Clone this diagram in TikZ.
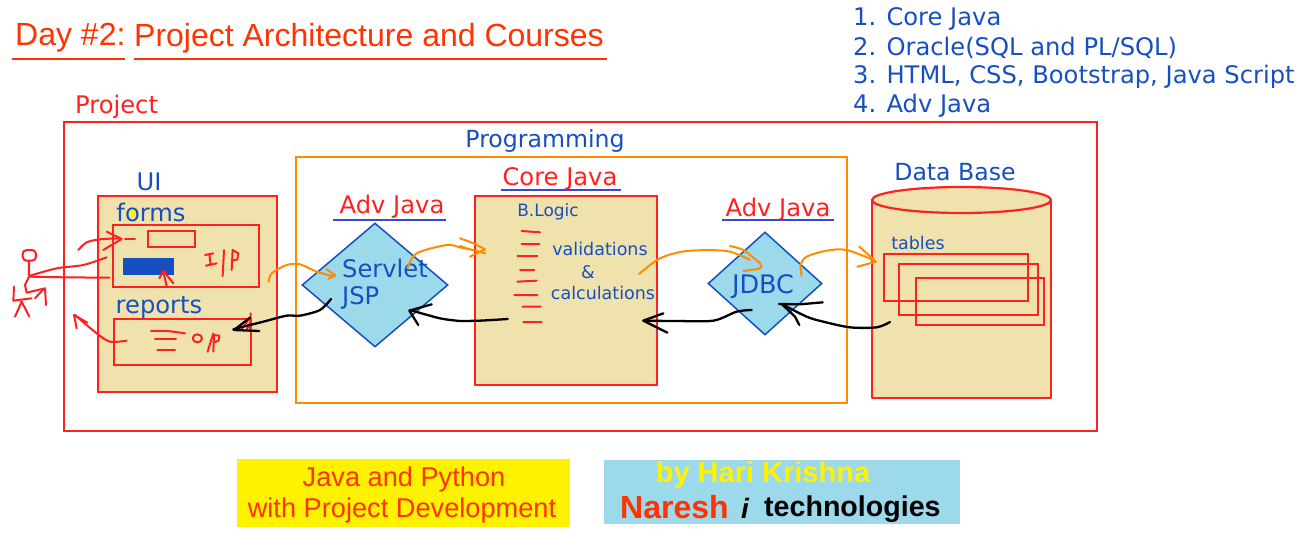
\documentclass[tikz,border=0pt]{standalone}
\usepackage{fontspec}
\setmainfont{DejaVu Sans}
\newfontfamily\arialf{Liberation Sans}
\usetikzlibrary{shapes.geometric}
\definecolor{rd}{HTML}{FF2020}
\definecolor{tit}{HTML}{FF3300}
\definecolor{blu}{HTML}{1650C0}
\definecolor{tan}{HTML}{EFE2AD}
\definecolor{sky}{HTML}{9BD9EB}
\definecolor{org}{HTML}{FF8C00}
\definecolor{ul}{HTML}{3F48CC}
\tikzset{
 px/.style={x=1pt,y=-1pt},
 boxr/.style={draw=rd,line width=2.2pt,anchor=north west,inner sep=0pt,outer sep=0pt},
 tanbox/.style={boxr,fill=tan},
 dia/.style={diamond,draw=blu,fill=sky,line width=1.5pt,inner sep=0pt,aspect=1.15},
 lab/.style={text=blu,inner sep=0pt,yshift=-2pt,font=\fontsize{24.2}{24}\selectfont},
 labm/.style={text=blu,inner sep=0pt,yshift=-2pt,font=\fontsize{23.6}{24}\selectfont},
 labr/.style={text=rd,inner sep=0pt,yshift=-2pt,font=\fontsize{24.2}{24}\selectfont},
 sml/.style={text=blu,inner sep=0pt,yshift=-1pt,font=\fontsize{17.5}{18}\selectfont},
 ar/.style={text=tit,inner sep=0pt,yshift=-2pt,font=\arialf\fontsize{32}{32}\selectfont},
 ulin/.style={draw=ul,line width=2.6pt},
 tul/.style={draw=tit,line width=2.4pt},
 rs/.style={draw=rd,line width=2pt,line cap=round,line join=round},
 os/.style={draw=org,line width=2pt,line cap=round,line join=round},
 ks/.style={draw=black,line width=2.3pt,line cap=round,line join=round},
 bt/.style={text=tit,inner sep=0pt,yshift=-2pt,font=\arialf\fontsize{27.2}{27}\selectfont},
 z1/.style={x=0.33333pt,y=-0.33333pt,shift={(0pt,-170pt)}},
 z2/.style={x=0.33333pt,y=-0.33333pt,shift={(460pt,-170pt)}},
 z3/.style={x=0.33333pt,y=-0.33333pt,shift={(700pt,-170pt)}},
}
\begin{document}
\begin{tikzpicture}[px]
\useasboundingbox (0,0) rectangle (1308,554);
\fill[white] (0,0) rectangle (1308,554);
% title
\node[ar,anchor=west] (day) at (15,36) {Day \#2:};
\node[ar,anchor=west] (ttl) at (134,36) {Project Architecture and Courses};
\draw[tul] (12,59) -- (125,59);
\draw[tul] (134,59) -- (607,59);
% list
\node[lab,anchor=west] (l1) at (853,17) {1. Core Java};
\node[lab,anchor=west] (l2) at (853,45.5) {2. Oracle(SQL and PL/SQL)};
\node[lab,anchor=west] (l3) at (853,75) {3. HTML, CSS, Bootstrap, Java Script};
\node[lab,anchor=west] (l4) at (853,104) {4. Adv Java};
% containers
\node[labr,anchor=west] (proj) at (75,105) {Project};
\node[boxr,minimum width=1033pt,minimum height=309pt] (pbox) at (64,122) {};
\node[labm] (prog) at (545,139) {Programming};
\node[boxr,draw=org,minimum width=551pt,minimum height=246pt] (pgbox) at (296,157) {};
% UI
\node[lab] (ui) at (149,180) {UI};
\node[tanbox,minimum width=179pt,minimum height=196pt] (uib) at (98,196) {};
\node[boxr,minimum width=146pt,minimum height=62pt] (fb) at (113,225) {};
\node[boxr,minimum width=47pt,minimum height=16pt] (inp) at (148,231) {};
\node[anchor=north west,fill=blu,minimum width=51pt,minimum height=17pt,inner sep=0pt] (btn) at (123,258) {};
\node[lab] (forms) at (151,210) {forms};
\fill[yellow] (132.3,213.3) circle (3.6);
\node[lab] (rep) at (159,306) {reports};
\node[boxr,minimum width=137pt,minimum height=46pt] (rb) at (114,319) {};
% Servlet
\node[labr] (a1) at (392,205) {Adv Java};
\draw[ulin] (333,220) -- (446,220);
\node[dia,minimum width=146pt,minimum height=124pt] (d1) at (375,285) {};
\node[lab,anchor=west] (sv) at (342,266) {Servlet};
\node[lab,anchor=west] (jsp) at (342,296) {JSP};
% Core
\node[labr] (cj) at (560,177) {Core Java};
\draw[ulin] (501,190) -- (621,190);
\node[tanbox,minimum width=182pt,minimum height=189pt] (cb) at (475,196) {};
\node[text=blu,inner sep=0pt,font=\fontsize{17}{17}\selectfont] (bl) at (548,212) {B.Logic};
\node[sml] (v1) at (600,248) {validations};
\node[sml] (v2) at (588,271) {\&};
\node[sml] (v3) at (603,292) {calculations};
% JDBC
\node[labr] (a2) at (778,207.5) {Adv Java};
\draw[ulin] (722,220) -- (834,220);
\node[dia,minimum width=114pt,minimum height=103pt] (d2) at (765,283.5) {};
\node[lab,font=\fontsize{25.5}{25}\selectfont] (jd) at (763,285) {JDBC};
% DB
\node[labm] (db) at (955,170) {Data Base};
\draw[rs,line width=2.2pt,fill=tan,line cap=butt] (872,200) -- (872,398) -- (1051,398) -- (1051,200);
\draw[rs,line width=2.2pt,fill=tan] (961.5,200) ellipse [x radius=89.5,y radius=13];
\node[sml] (tb) at (918,242) {tables};
\node[boxr,minimum width=139pt,minimum height=51pt] (t2) at (899,264) {};
\node[boxr,minimum width=144pt,minimum height=47pt] (t1) at (884,254) {};
\node[boxr,minimum width=128pt,minimum height=47pt] (t3) at (916,278) {};
% bottom
\node[anchor=north west,fill=yellow,minimum width=333pt,minimum height=68pt,inner sep=0pt] (yb) at (237,459) {};
\node[bt] (j1) at (404,477) {Java and Python};
\node[bt] (j2) at (402,508) {with Project Development};
\node[anchor=north west,fill=sky,minimum width=356pt,minimum height=64pt,inner sep=0pt] (nb) at (604,460) {};
\node[text=yellow,inner sep=0pt,yshift=-2pt,font=\arialf\bfseries\fontsize{29}{29}\selectfont] (hk) at (763,473) {by Hari Krishna};
\node[text=tit,inner sep=0pt,anchor=west,font=\arialf\bfseries\fontsize{32}{32}\selectfont] (na) at (620,507) {Naresh};
\node[text=black,inner sep=0pt,anchor=west,font=\arialf\bfseries\itshape\fontsize{28}{28}\selectfont] (ii) at (741,508) {i};
\node[text=black,inner sep=0pt,anchor=west,yshift=-1pt,font=\arialf\bfseries\fontsize{28.6}{29}\selectfont] (te) at (764,508) {technologies};
% scribbles zoom 1 coordinates
\begin{scope}[z1]
 % person
 \draw[rs,rounded corners=4pt] (68,240) rectangle (108,272);
 \draw[rs] (87,272) -- (87,320) -- (75,345) -- (80,368) -- (135,355) -- (138,405);
 \draw[rs] (105,385) -- (130,358);
 \draw[rs] (42,350) -- (40,392) -- (95,385);
 \draw[rs] (65,395) -- (45,440);
 \draw[rs] (65,395) -- (88,440);
 \draw[rs] plot[smooth] coordinates {(87,318) (170,295) (250,285) (320,262)};
 \draw[rs] plot[smooth] coordinates {(87,320) (200,322) (328,323)};
 % arrow into input
 \draw[rs] plot[smooth] coordinates {(235,240) (260,217) (300,208) (360,205)};
 \draw[rs] (320,185) -- (365,207) -- (310,240);
 \draw[rs] (375,207) -- (405,207);
 % I/p
 \draw[rs] (615,255) -- (640,250) (628,252) -- (632,285) (618,287) -- (650,280);
 \draw[rs] (672,240) -- (668,318);
 \draw[rs] (695,300) -- (698,240) -- (715,250) -- (712,268) -- (697,272);
 % up arrow
 \draw[rs] (500,348) -- (490,305);
 \draw[rs] (478,325) -- (490,302) -- (520,340);
 % return
 \draw[rs] plot[smooth] coordinates {(380,512) (330,515) (290,490) (225,435)};
 \draw[rs] (230,475) -- (222,435) -- (262,458);
 % o/p
 \draw[rs] plot[smooth] coordinates {(453,483) (500,483) (555,490)};
 \draw[rs] (465,508) -- (528,508) (472,540) -- (525,540);
 \draw[rs] (592,505) ellipse [x radius=14,y radius=12];
 \draw[rs] (640,490) -- (623,545);
 \draw[rs] (640,545) -- (642,495) -- (658,497) -- (656,512) -- (642,517);
 % black arrow to report box
 \fill[white] (750,443) -- (702,480) -- (735,478) -- cycle;
 \draw[rs] (752,430) -- (750,475) (725,478) -- (752,440) (740,478) -- (752,455);
 \draw[ks] plot[smooth] coordinates {(993,387) (960,420) (900,437) (860,437) (790,455) (730,470) (700,478)};
 \draw[ks] (750,443) -- (702,480) -- (778,483);
 % orange to servlet
 \draw[os] plot[smooth] coordinates {(806,335) (815,310) (860,285) (900,283) (950,305) (1003,320)};
 \draw[os] (980,298) -- (1005,315) -- (985,327);
 % black to servlet
 \draw[ks] plot[smooth] coordinates {(1380,453) (1320,445) (1230,420)};
 \draw[ks] (1295,403) -- (1228,422) -- (1255,465);
 % orange servlet to core
 \draw[os] plot[smooth] coordinates {(1222,295) (1250,250) (1340,225) (1380,232) (1410,238) (1455,250)};
\end{scope}
\begin{scope}[z2]
 \draw[os] plot[smooth] coordinates {(0,205) (40,220) (75,238)};
 \draw[os] (75,238) -- (30,260);
 \draw[os] (0,228) -- (20,235);
 \draw[ks] plot[smooth] coordinates {(0,453) (60,452) (143,447)};
 % b.logic dashes
 \draw[rs] (185,183) -- (240,187) (185,222) -- (238,222) (172,258) -- (232,258) (180,300) -- (223,300)
   (172,335) -- (230,332) (163,375) -- (232,375) (187,410) -- (242,410) (190,456) -- (245,456);
 % orange core to jdbc
 \draw[os] plot[smooth] coordinates {(537,312) (600,265) (680,243) (800,243) (870,270)};
 \draw[os] plot[smooth,tension=0.4] coordinates {(810,228) (850,240) (900,280) (900,295) (850,303)};
 % black jdbc to core
 \draw[ks] plot[smooth] coordinates {(875,420) (830,425) (760,452) (650,453) (550,452)};
 \draw[ks] (610,430) -- (550,452) -- (622,488);
\end{scope}
\begin{scope}[z3]
 \draw[os] plot[smooth] coordinates {(305,318) (302,285) (320,260) (380,242) (440,240) (525,272)};
 \draw[os] (478,230) -- (528,275) -- (472,290);
 \draw[ks] plot[smooth] coordinates {(570,456) (530,472) (450,472) (370,455) (320,440) (245,402)};
 \draw[ks] (368,397) -- (300,403) -- (237,402);
 \draw[ks] (298,465) -- (285,440) -- (245,402);
\end{scope}
\end{tikzpicture}
\end{document}
